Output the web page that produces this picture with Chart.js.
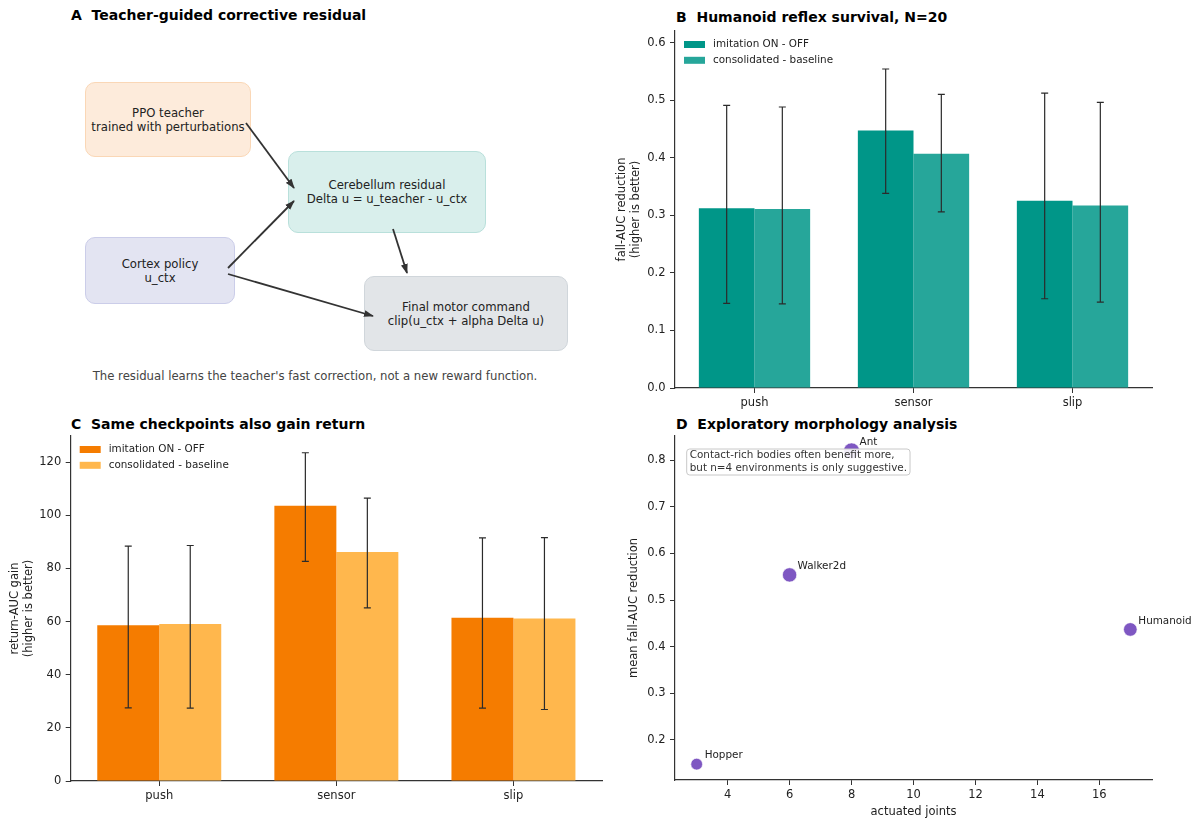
<!DOCTYPE html>
<html lang="en">
<head>
<meta charset="UTF-8">
<title>Teacher-guided corrective residual</title>
<script src="https://cdn.jsdelivr.net/npm/chart.js"></script>
<style>
  body { margin: 0; background: #fff; font-family: "DejaVu Sans", sans-serif; }
  .fig { position: relative; width: 1200px; height: 828px; overflow: hidden; }
  .title { position: absolute; font-weight: bold; font-size: 14px; line-height: 16px; color: #000; white-space: pre; }
  .box { position: absolute; box-sizing: border-box; border-radius: 10px; border: 1.5px solid;
         display: flex; align-items: center; justify-content: center; text-align: center;
         font-size: 11.7px; line-height: 14px; color: #222; }
  .caption { position: absolute; left: 0; width: 630px; top: 369px; text-align: center; font-size: 11.7px; color: #444; }
  canvas { position: absolute; }
</style>
</head>
<body>
<div class="fig">
  <div class="title" style="left:71px;top:7px">A  Teacher-guided corrective residual</div>
  <div class="title" style="left:676px;top:9px">B  Humanoid reflex survival, N=20</div>
  <div class="title" style="left:71px;top:416px">C  Same checkpoints also gain return</div>
  <div class="title" style="left:676px;top:416px">D  Exploratory morphology analysis</div>

  <!-- panel A: schematic -->
  <div class="box" style="left:85px;top:82px;width:166px;height:75px;background:#fdebdb;border-color:#fad7b6">PPO teacher<br>trained with perturbations</div>
  <div class="box" style="left:288px;top:151px;width:198px;height:82px;background:#d9efec;border-color:#b9e0db">Cerebellum residual<br>Delta u = u_teacher - u_ctx</div>
  <div class="box" style="left:85px;top:237px;width:150px;height:67px;background:#e3e4f2;border-color:#cbcde9">Cortex policy<br>u_ctx</div>
  <div class="box" style="left:364px;top:276px;width:204px;height:75px;background:#e2e5e8;border-color:#d0d6db">Final motor command<br>clip(u_ctx + alpha Delta u)</div>
  <svg width="600" height="410" style="position:absolute;left:0;top:0">
    <defs>
      <marker id="head" markerWidth="10" markerHeight="8" refX="9" refY="4" orient="auto" markerUnits="userSpaceOnUse">
        <path d="M0,0.5 L10,4 L0,7.5 z" fill="#333"/>
      </marker>
    </defs>
    <g stroke="#333" stroke-width="1.8" marker-end="url(#head)">
      <line x1="246" y1="123" x2="294" y2="188"/>
      <line x1="228" y1="268" x2="294" y2="201"/>
      <line x1="393" y1="229" x2="407" y2="273"/>
      <line x1="228" y1="274" x2="373" y2="316"/>
    </g>
  </svg>
  <div class="caption">The residual learns the teacher's fast correction, not a new reward function.</div>

  <canvas id="chartB" width="600" height="410" style="left:600px;top:0"></canvas>
  <canvas id="chartC" width="610" height="418" style="left:0;top:410px"></canvas>
  <canvas id="chartD" width="600" height="418" style="left:600px;top:410px"></canvas>
</div>

<script>
// ---- data ----
const conditions = ['push', 'sensor', 'slip'];
const seriesNames = ['imitation ON - OFF', 'consolidated - baseline'];

// B: fall-AUC reduction (Humanoid, N=20)
const fallOn = [0.312, 0.447, 0.325];
const fallCons = [0.311, 0.407, 0.317];
const fallOnLow = [0.147, 0.338, 0.155];
const fallOnHigh = [0.491, 0.554, 0.512];
const fallConsLow = [0.146, 0.306, 0.149];
const fallConsHigh = [0.488, 0.510, 0.496];

// C: return-AUC gain
const returnOn = [58.6, 103.6, 61.4];
const returnCons = [59.1, 86.2, 61.1];
const returnOnLow = [27.5, 82.6, 27.4];
const returnOnHigh = [88.4, 123.5, 91.5];
const returnConsLow = [27.4, 65.1, 26.9];
const returnConsHigh = [88.6, 106.4, 91.6];

// D: morphology
const envNames = ['Hopper', 'Walker2d', 'Ant', 'Humanoid'];
const actuatedJoints = [3, 6, 8, 17];
const meanFallReduction = [0.148, 0.554, 0.820, 0.437];
const noteLines = ['Contact-rich bodies often benefit more,', 'but n=4 environments is only suggestive.'];

// ---- shared styling ----
Chart.defaults.font.family = '"DejaVu Sans", sans-serif';
Chart.defaults.color = '#222';
const axisColor = '#333';

const errorBars = {
  id: 'errorBars',
  afterDatasetsDraw(chart) {
    const ctx = chart.ctx;
    const y = chart.scales.y;
    ctx.save();
    ctx.strokeStyle = '#2b2b2b';
    ctx.lineWidth = 1.2;
    chart.data.datasets.forEach((ds, d) => {
      chart.getDatasetMeta(d).data.forEach((bar, i) => {
        const lo = y.getPixelForValue(ds.errLow[i]);
        const hi = y.getPixelForValue(ds.errHigh[i]);
        ctx.beginPath();
        ctx.moveTo(bar.x, lo); ctx.lineTo(bar.x, hi);
        ctx.moveTo(bar.x - 3.5, lo); ctx.lineTo(bar.x + 3.5, lo);
        ctx.moveTo(bar.x - 3.5, hi); ctx.lineTo(bar.x + 3.5, hi);
        ctx.stroke();
      });
    });
    ctx.restore();
  }
};

const innerLegend = {
  id: 'innerLegend',
  afterDraw(chart) {
    const {ctx, chartArea} = chart;
    ctx.save();
    ctx.font = '10.4px "DejaVu Sans"';
    ctx.textBaseline = 'middle';
    chart.data.datasets.forEach((ds, i) => {
      const cy = chartArea.top + 13.5 + i * 15.8;
      ctx.fillStyle = ds.backgroundColor;
      ctx.fillRect(chartArea.left + 9, cy - 3.5, 21, 7);
      ctx.fillStyle = '#222';
      ctx.fillText(ds.label, chartArea.left + 38, cy);
    });
    ctx.restore();
  }
};

function axisBase() {
  return {
    border: { display: true, color: axisColor, width: 1.2 },
    grid: { drawOnChartArea: false, drawTicks: true, tickLength: 5, tickWidth: 1, tickColor: axisColor, offset: false },
    ticks: { color: '#222', font: { size: 11.5 }, padding: 3.5 }
  };
}

function yScale(min, max, step, digits, title, titlePad, width) {
  const s = axisBase();
  s.min = min;
  s.max = max;
  s.ticks.stepSize = step;
  s.ticks.includeBounds = false;
  s.ticks.padding = 4.5;
  s.ticks.callback = v => v.toFixed(digits);
  s.title = { display: true, text: title, color: '#222', font: { size: 11.5 }, padding: { top: titlePad, bottom: 0 } };
  s.afterFit = sc => { sc.width = width; };
  return s;
}

function barChart(id, values, lows, highs, colors, yOpts, xHeight, pad) {
  const x = axisBase();
  x.afterFit = sc => { sc.height = xHeight; };
  return new Chart(document.getElementById(id), {
    type: 'bar',
    data: {
      labels: conditions,
      datasets: values.map((v, k) => ({
        label: seriesNames[k],
        data: v,
        errLow: lows[k],
        errHigh: highs[k],
        backgroundColor: colors[k],
        borderWidth: 0,
        categoryPercentage: 0.7,
        barPercentage: 1.0
      }))
    },
    options: {
      responsive: false,
      animation: false,
      layout: { padding: pad },
      scales: { x: x, y: yOpts },
      plugins: { legend: { display: false }, tooltip: { enabled: false } }
    },
    plugins: [errorBars, innerLegend]
  });
}

// ---- B ----
barChart('chartB',
  [fallOn, fallCons], [fallOnLow, fallConsLow], [fallOnHigh, fallConsHigh],
  ['#009688', '#26a69a'],
  yScale(0, 0.62, 0.1, 1, ['fall-AUC reduction', '(higher is better)'], 15.2, 75),
  22, { left: 0, right: 48, top: 31, bottom: 0 });

// ---- C ----
barChart('chartC',
  [returnOn, returnCons], [returnOnLow, returnConsLow], [returnOnHigh, returnConsHigh],
  ['#f57c00', '#ffb74d'],
  yScale(0, 129.8, 20, 0, ['return-AUC gain', '(higher is better)'], 8.2, 70.7),
  47, { left: 0, right: 8, top: 26, bottom: 0 });

// ---- D ----
const pointLabels = {
  id: 'pointLabels',
  afterDatasetsDraw(chart) {
    const ctx = chart.ctx;
    ctx.save();
    ctx.font = '10.4px "DejaVu Sans"';
    ctx.fillStyle = '#222';
    ctx.textBaseline = 'middle';
    chart.getDatasetMeta(0).data.forEach((pt, i) => {
      ctx.fillText(envNames[i], pt.x + 8, pt.y - 8.5);
    });
    ctx.restore();
  }
};

const noteBox = {
  id: 'noteBox',
  afterDatasetsDraw(chart) {
    const {ctx, chartArea} = chart;
    ctx.save();
    ctx.font = '10.4px "DejaVu Sans"';
    const w = Math.max(...noteLines.map(t => ctx.measureText(t).width)) + 6;
    const bx = chartArea.left + 11.7, by = chartArea.top + 13;
    ctx.beginPath();
    ctx.roundRect(bx, by, w, 26, 3);
    ctx.fillStyle = 'rgba(255,255,255,0.9)';
    ctx.fill();
    ctx.strokeStyle = '#c8c8c8';
    ctx.lineWidth = 1;
    ctx.stroke();
    ctx.fillStyle = '#333';
    ctx.textBaseline = 'middle';
    noteLines.forEach((t, i) => ctx.fillText(t, bx + 3, by + 6.5 + i * 12.4));
    ctx.restore();
  }
};

const dx = axisBase();
dx.type = 'linear';
dx.min = 2.3;
dx.max = 17.7;
dx.ticks.stepSize = 2;
dx.ticks.includeBounds = false;
dx.title = { display: true, text: 'actuated joints', color: '#222', font: { size: 11.5 }, padding: { top: 0, bottom: 9 } };
dx.afterFit = sc => { sc.height = 48; };

new Chart(document.getElementById('chartD'), {
  type: 'scatter',
  data: {
    datasets: [{
      label: 'mean fall-AUC reduction',
      data: actuatedJoints.map((j, i) => ({ x: j, y: meanFallReduction[i] })),
      backgroundColor: '#7e57c2',
      borderColor: 'rgba(255,255,255,0.8)',
      borderWidth: 0.8,
      pointRadius: ctx => 5.4 + 3.2 * ctx.raw.y
    }]
  },
  options: {
    responsive: false,
    animation: false,
    layout: { padding: { left: 0, right: 48, top: 26, bottom: 0 } },
    scales: {
      x: dx,
      y: yScale(0.114, 0.852, 0.1, 1, 'mean fall-AUC reduction', 27.6, 75)
    },
    plugins: { legend: { display: false }, tooltip: { enabled: false } }
  },
  plugins: [pointLabels, noteBox]
});
</script>
</body>
</html>
